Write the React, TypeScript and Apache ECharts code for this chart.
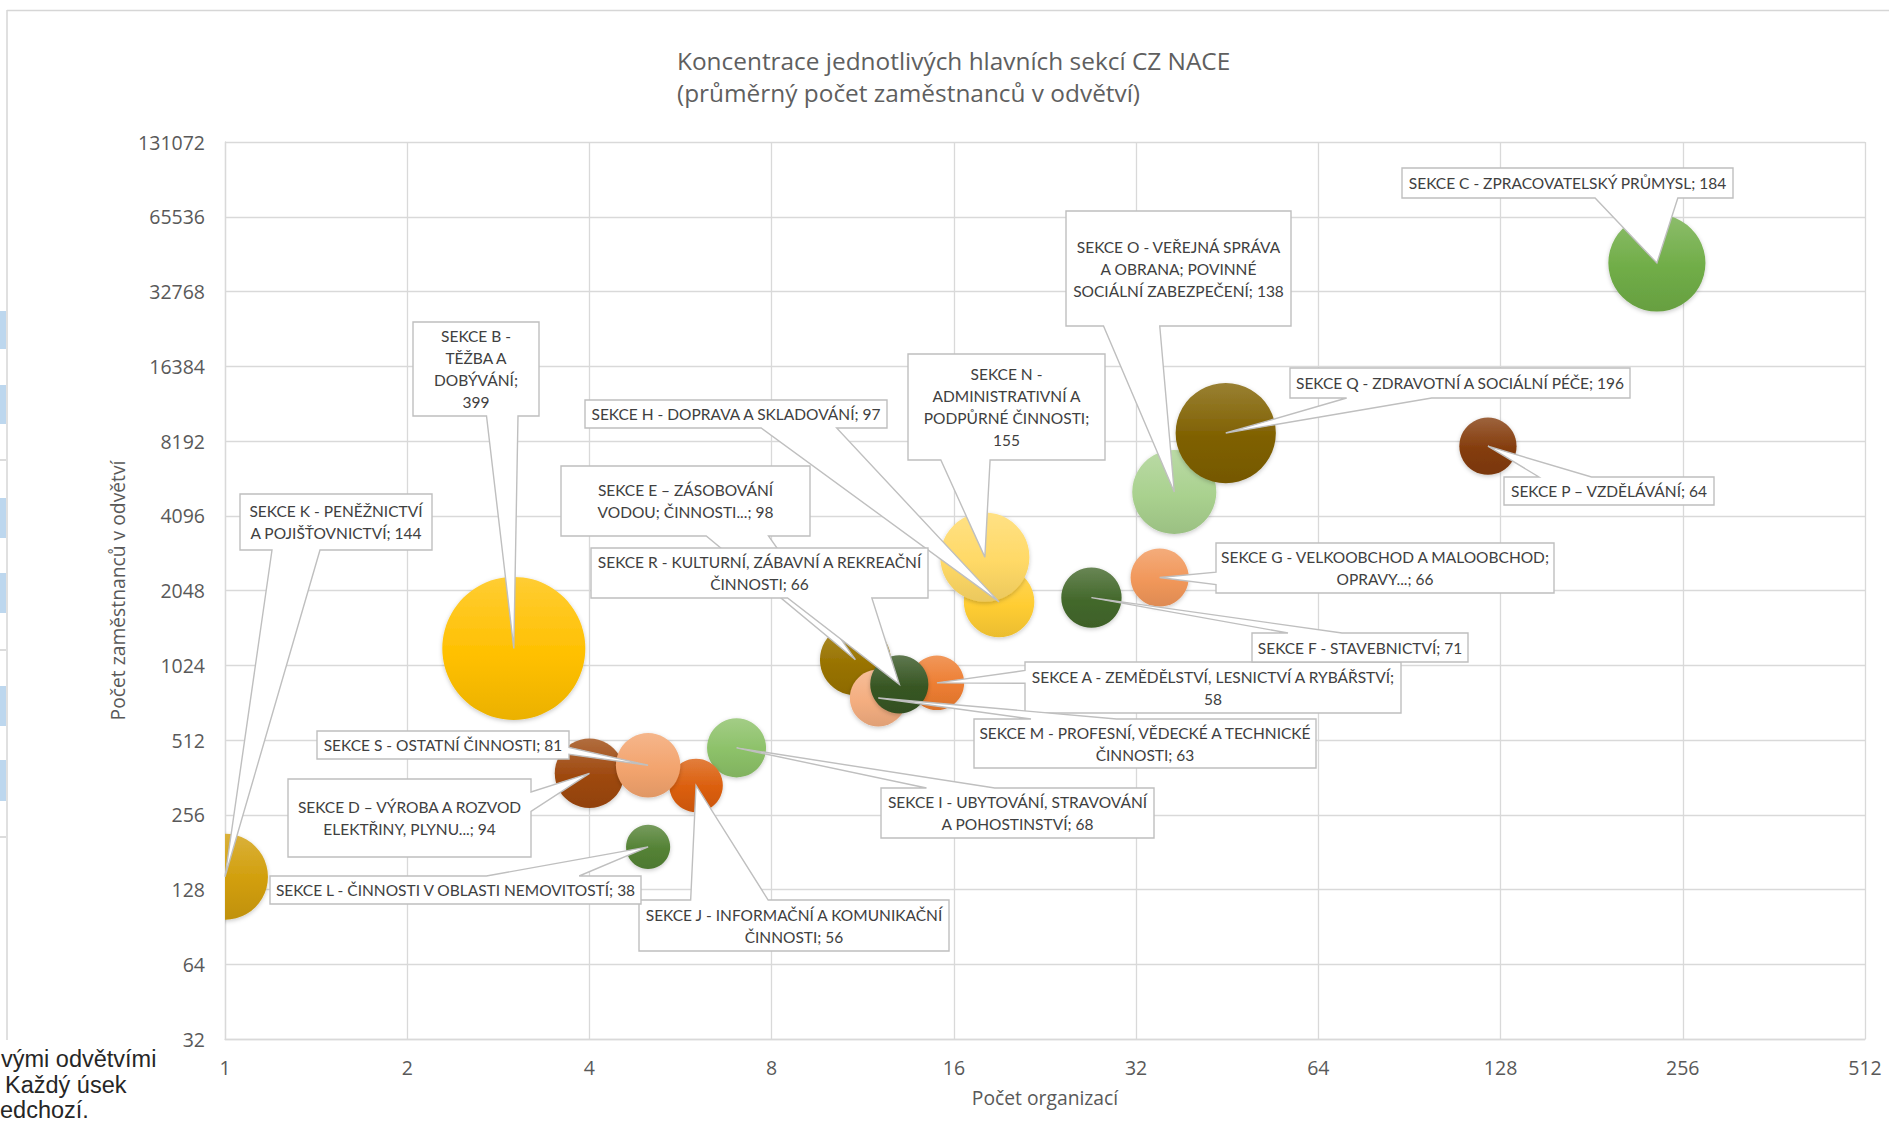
import React, { useEffect, useRef } from "react";
import * as echarts from "echarts";

// ---------------- DATA ----------------
const sections = [
  "SEKCE A - ZEMĚDĚLSTVÍ, LESNICTVÍ A RYBÁŘSTVÍ",
  "SEKCE B - TĚŽBA A DOBÝVÁNÍ",
  "SEKCE C - ZPRACOVATELSKÝ PRŮMYSL",
  "SEKCE D – VÝROBA A ROZVOD ELEKTŘINY, PLYNU...",
  "SEKCE E – ZÁSOBOVÁNÍ VODOU; ČINNOSTI...",
  "SEKCE F - STAVEBNICTVÍ",
  "SEKCE G - VELKOOBCHOD A MALOOBCHOD; OPRAVY...",
  "SEKCE H - DOPRAVA A SKLADOVÁNÍ",
  "SEKCE I - UBYTOVÁNÍ, STRAVOVÁNÍ A POHOSTINSTVÍ",
  "SEKCE J - INFORMAČNÍ A KOMUNIKAČNÍ ČINNOSTI",
  "SEKCE K - PENĚŽNICTVÍ A POJIŠŤOVNICTVÍ",
  "SEKCE L - ČINNOSTI V OBLASTI NEMOVITOSTÍ",
  "SEKCE M - PROFESNÍ, VĚDECKÉ A TECHNICKÉ ČINNOSTI",
  "SEKCE N - ADMINISTRATIVNÍ A PODPŮRNÉ ČINNOSTI",
  "SEKCE O - VEŘEJNÁ SPRÁVA A OBRANA; POVINNÉ SOCIÁLNÍ ZABEZPEČENÍ",
  "SEKCE P – VZDĚLÁVÁNÍ",
  "SEKCE Q - ZDRAVOTNÍ A SOCIÁLNÍ PÉČE",
  "SEKCE R - KULTURNÍ, ZÁBAVNÍ A REKREAČNÍ ČINNOSTI",
  "SEKCE S - OSTATNÍ ČINNOSTI",
];
// Počet organizací (x)
const organizations = [15, 3, 232, 4, 11, 27, 35, 19, 7, 6, 1, 5, 12, 18, 37, 122, 45, 13, 5];
// Počet zaměstnanců v odvětví (y)
const employees = [870, 1197, 42688, 376, 1078, 1917, 2310, 1843, 476, 336, 144, 190, 756, 2790, 5106, 7808, 8820, 858, 405];
// Průměrný počet zaměstnanců (bubble size)
const avgEmployees = [58, 399, 184, 94, 98, 71, 66, 97, 68, 56, 144, 38, 63, 155, 138, 64, 196, 66, 81];

const xTickLabels = ["1", "2", "4", "8", "16", "32", "64", "128", "256", "512"];
const yTickLabels = ["32", "64", "128", "256", "512", "1024", "2048", "4096", "8192", "16384", "32768", "65536", "131072"];

const chartTitle = ["Koncentrace jednotlivých hlavních sekcí CZ NACE", "(průměrný počet zaměstnanců v odvětví)"];
const xAxisTitle = "Počet organizací";
const yAxisTitle = "Počet zaměstnanců v odvětví";
const sheetText = ["vými odvětvími", "Každý úsek", "edchozí."];

// ---------------- STYLE / LAYOUT ----------------
const bubbleColors = [
  "#ED7D31", "#FFC000", "#70AD47", "#9E480E", "#997300", "#43682B", "#F1975A", "#FFCD33", "#8CC168",
  "#DB5E0C", "#D19E0A", "#548235", "#F4AE80", "#FFD966", "#A9D18E", "#843C0C", "#7F6000", "#375623", "#F3A46E",
];
const MAX_BUBBLE = 143;

// callout boxes [left, top, width, height] in px, and words per line
const calloutBoxes: number[][] = [
  [1025, 662, 376, 51],
  [413, 322, 126, 94],
  [1402, 168, 331, 30],
  [288, 779, 243, 78],
  [561, 466, 249, 70],
  [1252, 633, 216, 29],
  [1216, 543, 338, 50],
  [585, 400, 302, 28],
  [881, 788, 273, 50],
  [639, 900, 310, 51],
  [240, 494, 192, 56],
  [270, 876, 371, 28],
  [974, 719, 342, 49],
  [908, 354, 197, 106],
  [1066, 211, 225, 115],
  [1504, 477, 210, 28],
  [1290, 368, 340, 30],
  [591, 548, 337, 50],
  [317, 731, 252, 28],
];
const calloutWrap: number[][] = [
  [7, 1], [3, 2, 1, 1], [], [6, 3], [4, 3], [], [6, 2], [], [5, 3], [6, 2],
  [4, 3], [], [7, 2], [3, 2, 2, 1], [5, 3, 3], [], [], [7, 2], [],
];

function mix(hex: string, target: number, t: number) {
  const n = parseInt(hex.slice(1), 16);
  const ch = [(n >> 16) & 255, (n >> 8) & 255, n & 255].map((c) => Math.round(c + (target - c) * t));
  return "#" + ch.map((c) => c.toString(16).padStart(2, "0")).join("");
}

function labelText(i: number) {
  const full = sections[i] + "; " + avgEmployees[i];
  const wrap = calloutWrap[i];
  if (!wrap.length) return full;
  const words = full.split(" ");
  const lines: string[] = [];
  let k = 0;
  for (const n of wrap) {
    lines.push(words.slice(k, k + n).join(" "));
    k += n;
  }
  return lines.join("\n");
}

function calloutPoints(l: number, t: number, w: number, h: number, tx: number, ty: number) {
  const cx = l + w / 2;
  const cy = t + h / 2;
  const dxPos = tx - cx;
  const dyPos = ty - cy;
  const dx = (dxPos * h) / w;
  const r = l + w;
  const b = t + h;
  if (Math.abs(dyPos) > Math.abs(dx)) {
    const x1 = l + (w * (dxPos > 0 ? 7 : 2)) / 12;
    const x2 = l + (w * (dxPos > 0 ? 10 : 5)) / 12;
    if (dyPos > 0) return [[l, t], [r, t], [r, b], [x2, b], [tx, ty], [x1, b], [l, b]];
    return [[l, t], [x1, t], [tx, ty], [x2, t], [r, t], [r, b], [l, b]];
  }
  const y1 = t + (h * (dyPos > 0 ? 7 : 2)) / 12;
  const y2 = t + (h * (dyPos > 0 ? 10 : 5)) / 12;
  if (dxPos > 0) return [[l, t], [r, t], [r, y1], [tx, ty], [r, y2], [r, b], [l, b]];
  return [[l, t], [r, t], [r, b], [l, b], [l, y2], [tx, ty], [l, y1]];
}

const AXIS_FONT = "'Open Sans', 'DejaVu Sans', sans-serif";
const LABEL_FONT = "Lato, 'Open Sans', sans-serif";
const GRID_COLOR = "#D9D9D9";

export default function App() {
  const ref = useRef<HTMLDivElement>(null);

  useEffect(() => {
    if (!ref.current) return;
    const chart = echarts.init(ref.current, undefined, { renderer: "svg" });
    const maxAvg = Math.max(...avgEmployees);

    const fills = bubbleColors.map(
      (c) =>
        new echarts.graphic.LinearGradient(0, 0, 0, 1, [
          { offset: 0, color: mix(c, 255, 0.2) },
          { offset: 0.55, color: c },
          { offset: 1, color: mix(c, 0, 0.08) },
        ])
    );

    const pointData = sections.map((_, i) => [
      Math.log2(organizations[i]),
      Math.log2(employees[i]),
      avgEmployees[i],
    ]);

    const blueCells = [[311, 349], [385, 424], [498, 538], [573, 613], [686, 726], [760, 801]];

    const option: any = {
      animation: false,
      backgroundColor: "#ffffff",
      title: {
        text: chartTitle.join("\n"),
        left: 672,
        top: 39,
        textStyle: {
          fontFamily: AXIS_FONT,
          fontSize: 24.4,
          fontWeight: "normal",
          color: "#5F5F5F",
          lineHeight: 32,
        },
      },
      grid: { left: 225, right: 24, top: 142, bottom: 85, containLabel: false, outerBoundsMode: "none" },
      xAxis: {
        type: "value",
        min: 0,
        max: xTickLabels.length - 1,
        interval: 1,
        name: xAxisTitle,
        nameLocation: "middle",
        nameGap: 49,
        nameTextStyle: { fontFamily: AXIS_FONT, fontSize: 19.3, color: "#595959" },
        axisLine: { show: true, lineStyle: { color: GRID_COLOR, width: 1.3 } },
        axisTick: { show: false },
        axisLabel: {
          margin: 18,
          fontFamily: AXIS_FONT,
          fontSize: 19.5,
          color: "#595959",
          formatter: (v: number) => xTickLabels[Math.round(v)],
        },
        splitLine: { show: true, lineStyle: { color: GRID_COLOR, width: 1.3 } },
      },
      yAxis: {
        type: "value",
        min: 5,
        max: 5 + yTickLabels.length - 1,
        interval: 1,
        name: yAxisTitle,
        nameLocation: "middle",
        nameGap: 97,
        nameTextStyle: { fontFamily: AXIS_FONT, fontSize: 19.3, color: "#595959" },
        axisLine: { show: true, lineStyle: { color: GRID_COLOR, width: 1.3 } },
        axisTick: { show: false },
        axisLabel: {
          margin: 20,
          fontFamily: AXIS_FONT,
          fontSize: 19.5,
          color: "#595959",
          formatter: (v: number) => yTickLabels[Math.round(v) - 5],
        },
        splitLine: { show: true, lineStyle: { color: GRID_COLOR, width: 1.3 } },
      },
      series: [
        {
          type: "custom",
          name: "bubbles",
          z: 2,
          clip: true,
          silent: true,
          data: pointData,
          renderItem: (params: any, api: any) => {
            const i = params.dataIndex;
            const p = api.coord([api.value(0), api.value(1)]);
            const r = (MAX_BUBBLE * Math.sqrt(api.value(2) / maxAvg)) / 2;
            return {
              type: "circle",
              shape: { cx: p[0], cy: p[1], r },
              style: {
                fill: fills[i],
                shadowBlur: 4,
                shadowColor: "rgba(0,0,0,0.22)",
                shadowOffsetY: 1.5,
              },
            };
          },
        },
        {
          type: "custom",
          name: "callouts",
          z: 5,
          clip: false,
          silent: true,
          data: pointData,
          renderItem: (params: any, api: any) => {
            const i = params.dataIndex;
            const tip = api.coord([api.value(0), api.value(1)]);
            const [l, t, w, h] = calloutBoxes[i];
            return {
              type: "group",
              children: [
                {
                  type: "polygon",
                  shape: { points: calloutPoints(l, t, w, h, tip[0], tip[1]) },
                  style: { fill: "#ffffff", stroke: "#BFBFBF", lineWidth: 1.4 },
                },
                {
                  type: "text",
                  x: l + w / 2,
                  y: t + h / 2,
                  style: {
                    text: labelText(i),
                    x: 0,
                    y: 0,
                    align: "center",
                    verticalAlign: "middle",
                    fontFamily: LABEL_FONT,
                    fontSize: 15.5,
                    lineHeight: 22,
                    fill: "#404040",
                  },
                },
              ],
            };
          },
        },
      ],
      graphic: [
        { type: "line", shape: { x1: 7, y1: 10.5, x2: 1889, y2: 10.5 }, style: { stroke: "#D6D6D6", lineWidth: 1.5 } },
        { type: "line", shape: { x1: 7, y1: 10, x2: 7, y2: 1040 }, style: { stroke: "#D6D6D6", lineWidth: 1.5 } },
        ...blueCells.map(([a, b]) => ({
          type: "rect",
          shape: { x: 0, y: a, width: 6, height: b - a },
          style: { fill: "#BDD7EE" },
        })),
        ...[460, 650, 837].map((y) => ({
          type: "line",
          shape: { x1: 0, y1: y, x2: 6, y2: y },
          style: { stroke: "#D0D0D0", lineWidth: 1.5 },
        })),
        ...sheetText.map((s, k) => ({
          type: "text",
          x: [1, 5, 0][k],
          y: [1059, 1085, 1110][k],
          style: {
            text: s,
            fontFamily: "'Liberation Sans', Arial, sans-serif",
            fontSize: 23.5,
            fill: "#262626",
            verticalAlign: "middle",
          },
        })),
      ],
    };

    chart.setOption(option);
    return () => chart.dispose();
  }, []);

  return (
    <div
      ref={ref}
      style={{ position: "fixed", left: 0, top: 0, width: 1889, height: 1124, background: "#fff" }}
    />
  );
}
